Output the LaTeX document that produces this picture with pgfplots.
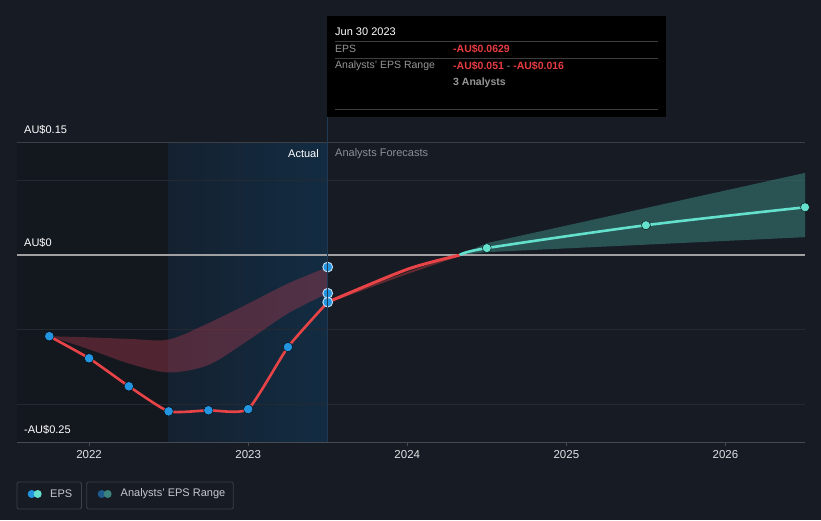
\documentclass[border=0pt]{standalone}
\usepackage{pgfplots}
\pgfplotsset{compat=1.18}
\usepgfplotslibrary{fillbetween}
\usepackage{fontspec}
\setmainfont{Liberation Sans}
\definecolor{bg}{RGB}{22,27,36}
\definecolor{leftdark}{RGB}{19,23,30}
\definecolor{blueL}{RGB}{20,33,48}
\definecolor{blueR}{RGB}{19,44,66}
\definecolor{gridc}{RGB}{37,41,49}
\definecolor{gridtop}{RGB}{60,63,70}
\definecolor{zeroc}{RGB}{160,160,162}
\definecolor{axisc}{RGB}{70,74,82}
\definecolor{epsred}{RGB}{232,67,71}
\definecolor{bandred}{RGB}{180,60,80}
\definecolor{dotblue}{RGB}{35,148,223}
\definecolor{dotring}{RGB}{200,225,245}
\definecolor{legblue}{RGB}{30,90,140}
\definecolor{teal}{RGB}{100,225,205}
\definecolor{bandteal}{RGB}{60,130,125}
\definecolor{vline}{RGB}{30,58,85}
\definecolor{ttred}{RGB}{230,60,65}
\definecolor{ttgray}{RGB}{150,150,152}
\definecolor{ttline}{RGB}{62,62,64}
\definecolor{legtext}{RGB}{200,200,205}
\definecolor{ticktext}{RGB}{225,226,228}
\definecolor{legbox}{RGB}{60,64,72}
\definecolor{forecastgray}{RGB}{138,143,152}
\begin{document}
\begin{tikzpicture}[x=1pt,y=1pt]
\fill[bg] (0,0) rectangle (821,520);
\begin{axis}[
  at={(17pt,78pt)}, anchor=south west,
  scale only axis, width=788pt, height=299pt,
  xmin=2021.547, xmax=2026.5, ymin=-0.25, ymax=0.15,
  axis x line*=bottom, axis y line=none,
  axis line style={axisc, line width=1pt, -},
  xtick={2022,2023,2024,2025,2026},
  xticklabels={2022,2023,2024,2025,2026},
  tick align=outside, major tick length=4pt,
  xtick style={axisc, line width=1pt},
  xticklabel style={font=\fontsize{11.5}{13}\selectfont, text=ticktext, yshift=-1pt},
  ytick=\empty,
  axis on top,
  fill between/on layer=main,
]
% background regions
\fill[leftdark] (axis cs:2021.547,-0.25) rectangle (axis cs:2022.5,0.15);
\shade[left color=blueL, right color=blueR] (axis cs:2022.5,-0.25) rectangle (axis cs:2023.5,0.15);
% grid lines
\draw[gridtop, line width=1pt] (axis cs:2021.547,0.15) -- (axis cs:2026.5,0.15);
\draw[gridc, line width=1pt] (axis cs:2021.547,0.1) -- (axis cs:2026.5,0.1);
\draw[gridc, line width=1pt] (axis cs:2021.547,-0.1) -- (axis cs:2026.5,-0.1);
\draw[gridc, line width=1pt] (axis cs:2021.547,-0.2) -- (axis cs:2026.5,-0.2);
% past analysts range band
\addplot[name path=RU, draw=none, smooth] coordinates {
 (2021.75,-0.1085) (2022.0,-0.110) (2022.25,-0.112) (2022.5,-0.113) (2022.75,-0.091) (2023.0,-0.065) (2023.25,-0.038) (2023.5,-0.016)};
\addplot[name path=RL, draw=none, smooth] coordinates {
 (2021.75,-0.1085) (2022.0,-0.126) (2022.25,-0.145) (2022.5,-0.157) (2022.75,-0.147) (2023.0,-0.114) (2023.25,-0.078) (2023.5,-0.051)};
\addplot[fill=bandred, fill opacity=0.38, draw=none] fill between[of=RU and RL];
% forecast range band
\addplot[name path=FU, draw=none] coordinates {
 (2024.33,0.0) (2024.5,0.016) (2025.5,0.063) (2026.5,0.110)};
\addplot[name path=FL, draw=none] coordinates {
 (2024.33,0.0) (2024.5,0.004) (2025.5,0.014) (2026.5,0.024)};
\addplot[fill=bandteal, fill opacity=0.55, draw=none] fill between[of=FU and FL];
\draw[zeroc, line width=1.8pt] (axis cs:2021.547,0) -- (axis cs:2026.5,0);
% faint lower forecast range below zero
\addplot[epsred!60!bg, line width=2pt, opacity=0.6, smooth] coordinates {
 (2023.5,-0.0629) (2024.0,-0.024) (2024.33,0.0)};
% EPS actual
\addplot[epsred, line width=2.6pt, smooth, tension=0.3] coordinates {
 (2021.75,-0.1085) (2022.0,-0.138) (2022.25,-0.1755) (2022.5,-0.209) (2022.75,-0.2076) (2023.0,-0.206) (2023.25,-0.123) (2023.5,-0.0629)};
% EPS forecast (red below zero, teal above)
\addplot[epsred, line width=3pt, smooth] coordinates {
 (2023.5,-0.0629) (2024.0,-0.019) (2024.33,0.0)};
\addplot[teal, line width=2.6pt, smooth] coordinates {
 (2024.33,0.0) (2024.5,0.0094) (2025.5,0.040) (2026.5,0.064)};
% marks
\addplot[only marks, mark=*, mark size=4.7pt, mark options={fill=dotblue, draw=none}] coordinates {
 (2021.75,-0.1085) (2022.0,-0.138) (2022.25,-0.1755) (2022.5,-0.209) (2022.75,-0.2076) (2023.0,-0.206) (2023.25,-0.123)};
\addplot[only marks, mark=*, mark size=4.9pt, mark options={fill=dotblue, draw=dotring, line width=0.9pt}] coordinates {
 (2023.5,-0.0629) (2023.5,-0.051) (2023.5,-0.016)};
\addplot[only marks, mark=*, mark size=4.5pt, mark options={fill=teal, draw=none}] coordinates {
 (2024.5,0.0094) (2025.5,0.040) (2026.5,0.064)};
\end{axis}
% vertical line at Jun 30 2023
\draw[vline, line width=1pt] (327,78) -- (327,403);
% y labels
\node[anchor=west, inner sep=0, text=white, font=\fontsize{11}{13}\selectfont] at (24,390) {AU\$0.15};
\node[anchor=west, inner sep=0, text=white, font=\fontsize{11}{13}\selectfont] at (24,277) {AU\$0};
\node[anchor=west, inner sep=0, text=white, font=\fontsize{11}{13}\selectfont] at (24,90) {-AU\$0.25};
% Actual / Forecasts
\node[anchor=east, inner sep=0, text=white, font=\fontsize{11}{13}\selectfont] at (319,366) {Actual};
\node[anchor=west, inner sep=0, text=forecastgray, font=\fontsize{11}{13}\selectfont] at (335,366) {Analysts Forecasts};
% tooltip
\fill[black] (327,403) rectangle (666,504);
\node[anchor=west, inner sep=0, text=white, font=\fontsize{11}{13}\selectfont] at (335,488.5) {Jun 30 2023};
\draw[ttline, line width=0.8pt] (335,478.5) -- (658,478.5);
\node[anchor=west, inner sep=0, text=ttgray, font=\fontsize{10.5}{12}\selectfont] at (335,471) {EPS};
\node[anchor=west, inner sep=0, text=ttred, font=\fontsize{10.5}{12}\selectfont\bfseries] at (453,471) {-AU\$0.0629};
\draw[ttline, line width=0.8pt] (335,462) -- (658,462);
\node[anchor=west, inner sep=0, text=ttgray, font=\fontsize{10.5}{12}\selectfont] at (335,454) {Analysts' EPS Range};
\node[anchor=west, inner sep=0, font=\fontsize{10.5}{12}\selectfont] at (453,454) {\textcolor{ttred}{\bfseries -AU\$0.051}\textcolor{ttgray}{~-~}\textcolor{ttred}{\bfseries -AU\$0.016}};
\node[anchor=west, inner sep=0, text=ttgray, font=\fontsize{10.5}{12}\selectfont\bfseries] at (453,437.5) {3 Analysts};
\draw[ttline, line width=0.8pt] (335,411) -- (658,411);
% legend
\draw[legbox, line width=0.8pt, rounded corners=1.5pt] (17,11) rectangle (81.5,38);
\fill[dotblue] (31.7,26) circle (4);
\fill[teal] (37.7,26) circle (4);
\node[anchor=west, inner sep=0, text=legtext, font=\fontsize{11}{13}\selectfont] at (50,26) {EPS};
\draw[legbox, line width=0.8pt, rounded corners=1.5pt] (86.7,11) rectangle (233.3,38);
\fill[legblue] (101.7,26) circle (4);
\fill[bandteal] (107.7,26) circle (4);
\node[anchor=west, inner sep=0, text=legtext, font=\fontsize{11}{13}\selectfont] at (120.5,26) {Analysts' EPS Range};
\end{tikzpicture}
\end{document}
